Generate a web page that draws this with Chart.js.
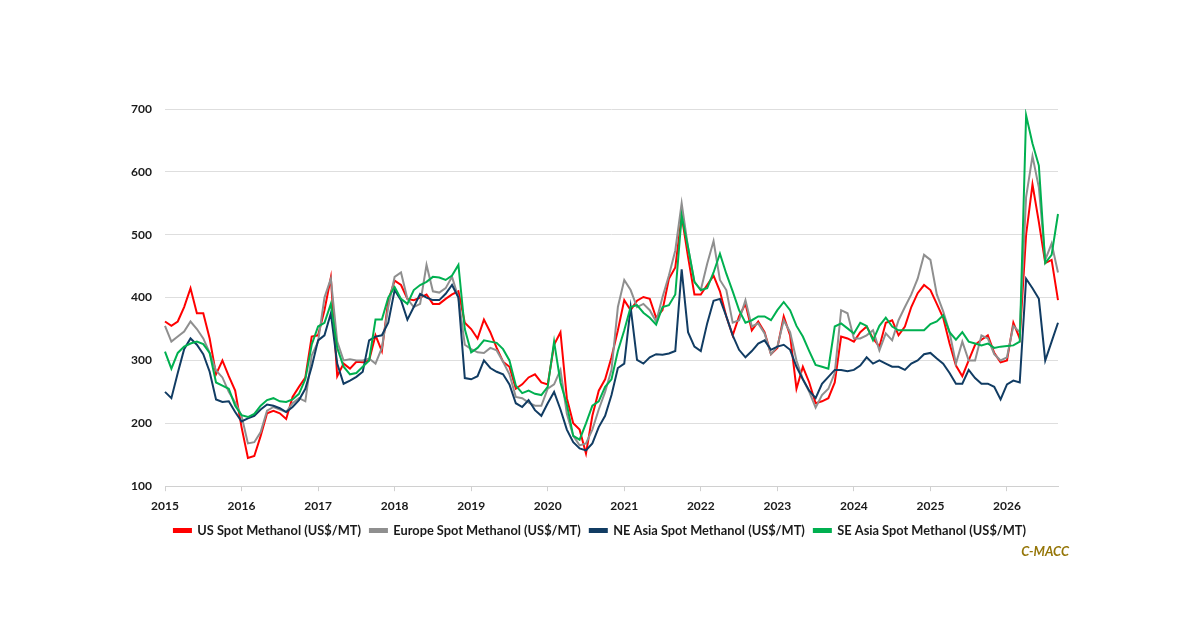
<!DOCTYPE html>
<html>
<head>
<meta charset="utf-8">
<script src="https://cdn.jsdelivr.net/npm/chart.js@4"></script>
<style>
  html, body { margin: 0; padding: 0; background: #fff; }
  #wrap { width: 1200px; height: 627px; }
</style>
</head>
<body>
<div id="wrap"><canvas id="methanolChart" width="1200" height="627"></canvas></div>
<script>
// Monthly labels, Jan 2015 .. Sep 2026
const months = [];
for (let y = 2015; y <= 2026; y++) {
  for (let m = 1; m <= 12; m++) {
    if (y === 2026 && m > 9) break;
    months.push(y + '-' + String(m).padStart(2, '0'));
  }
}

// Spot prices, US$/MT (one value per month)
const usSpot = [
  362, 355, 362, 385, 415, 375, 375, 335, 278, 300, 275, 252,
  194, 145, 148, 180, 216, 220, 216, 207, 242, 258, 273, 338,
  340, 380, 432, 275, 295, 287, 298, 297, 300, 340, 315, 395,
  427, 420, 398, 396, 400, 405, 390, 390, 398, 405, 410, 360,
  350, 335, 365, 345, 320, 298, 290, 255, 262, 273, 278, 265,
  262, 325, 345, 240, 200, 190, 152, 212, 252, 270, 305, 348,
  396, 380, 395, 401, 398, 368, 380, 430, 448, 530, 465, 405,
  405, 420, 435, 410, 370, 340, 370, 390, 348, 362, 345, 310,
  320, 370, 340, 255, 290, 265, 232, 235, 240, 265, 338, 335,
  330, 345, 354, 335, 322, 360, 364, 340, 354, 385, 407, 420,
  412, 390, 368, 327, 292, 275, 300, 325, 333, 340, 312, 297,
  300, 360, 335, 500, 580, 520, 455, 460, 396
];

const europeSpot = [
  355, 330, 338, 346, 362, 350, 335, 312, 284, 273, 250, 233,
  212, 168, 170, 186, 220, 226, 222, 218, 232, 240, 235, 308,
  330, 400, 430, 330, 300, 302, 300, 300, 303, 295, 320, 385,
  433, 440, 398, 385, 390, 452, 410, 408, 415, 433, 400, 325,
  318, 313, 312, 320, 316, 298, 278, 242, 240, 233, 228, 228,
  255, 262, 285, 215, 180, 165, 168, 190, 222, 250, 285, 385,
  428, 412, 385, 390, 380, 362, 401, 435, 475, 550, 480, 425,
  412, 454, 490, 428, 412, 360, 364, 396, 354, 359, 343, 310,
  322, 364, 345, 300, 270, 250, 225, 245, 255, 280, 380, 375,
  335, 335, 340, 348, 316, 343, 332, 364, 385, 405, 430, 468,
  460, 405, 378, 345, 295, 330, 300, 300, 340, 335, 310, 300,
  305, 355, 345, 560, 625, 575, 460, 486, 440
];

const neAsiaSpot = [
  250, 240, 280, 318, 335, 325, 310, 282, 238, 234, 235, 218,
  203, 208, 212, 222, 230, 228, 224, 218, 226, 237, 255, 290,
  332, 340, 375, 295, 263, 268, 274, 282, 332, 338, 340, 360,
  412, 396, 365, 385, 406, 400, 396, 396, 406, 420, 400, 272,
  270, 275, 300, 288, 282, 278, 262, 232, 226, 237, 221, 212,
  232, 250, 222, 190, 170, 160, 157, 168, 194, 212, 245, 288,
  295, 385, 301, 295, 305, 310, 309, 311, 315, 445, 345, 322,
  315, 359, 395, 398, 370, 340, 317, 305, 315, 327, 332, 317,
  322, 325, 317, 290, 270, 252, 240, 263, 274, 285, 285, 283,
  285, 292, 305, 295, 300, 295, 290, 290, 285, 295, 300, 310,
  312, 303, 295, 280, 263, 263, 285, 272, 263, 263, 258, 238,
  262, 268, 265, 430, 415, 398, 300, 330, 360
];

const seAsiaSpot = [
  314, 287, 312, 322, 327, 330, 326, 312, 265, 260, 255, 228,
  213, 210, 215, 228, 237, 240, 235, 234, 238, 247, 270, 325,
  354, 360, 390, 320, 290, 278, 280, 290, 300, 365, 365, 400,
  417, 398, 390, 412, 420, 425, 433, 432, 428, 435, 452, 350,
  313, 320, 332, 330, 328, 318, 300, 260, 248, 252, 247, 245,
  258, 330, 265, 230, 180, 174, 200, 228, 235, 258, 270, 315,
  348, 385, 388, 376, 368, 357, 385, 388, 405, 530, 480, 425,
  412, 415, 440, 470, 438, 410, 380, 360, 364, 370, 370, 364,
  380, 393, 380, 355, 338, 315, 293, 290, 287, 354, 359, 351,
  343, 360, 355, 332, 355, 368, 354, 348, 348, 348, 348, 348,
  358, 362, 372, 345, 333, 345, 330, 327, 324, 327, 320, 322,
  323, 324, 330, 690, 645, 610, 455, 468, 533
];

const yTicks = [100, 200, 300, 400, 500, 600, 700];

const seriesNames = [
  'US Spot Methanol (US$/MT)',
  'Europe Spot Methanol (US$/MT)',
  'NE Asia Spot Methanol (US$/MT)',
  'SE Asia Spot Methanol (US$/MT)'
];
const seriesColors = ['#ff0000', '#8f8f8f', '#113c63', '#00b050'];

const FONT = 'Lato, "Open Sans", sans-serif';

function makeSet(i, values) {
  return {
    label: seriesNames[i],
    data: values,
    borderColor: seriesColors[i],
    backgroundColor: seriesColors[i],
    borderWidth: 2,
    pointRadius: 0,
    tension: 0,
    order: 4 - i   // later series painted on top, like the original
  };
}

// source note bottom-right
const sourceNote = {
  id: 'sourceNote',
  afterDraw(chart) {
    const ctx = chart.ctx;
    ctx.save();
    ctx.font = 'italic bold 13px ' + FONT;
    ctx.fillStyle = '#957608';
    ctx.textAlign = 'right';
    ctx.textBaseline = 'middle';
    ctx.fillText('C-MACC', 1069, 552);
    ctx.restore();
  }
};

function createChart() {
  const ctx = document.getElementById('methanolChart').getContext('2d');
  new Chart(ctx, {
    type: 'line',
    data: {
      labels: months,
      datasets: [
        makeSet(0, usSpot),
        makeSet(1, europeSpot),
        makeSet(2, neAsiaSpot),
        makeSet(3, seAsiaSpot)
      ]
    },
    options: {
      responsive: false,
      animation: false,
      layout: { padding: { left: 0, right: 0, top: 109, bottom: 80 } },
      scales: {
        x: {
          type: 'category',
          offset: false,
          afterBuildTicks(scale) {
            scale.ticks = scale.ticks.filter(t => t.value % 12 === 0);
          },
          afterFit(scale) { scale.height = 29; },
          ticks: {
            autoSkip: false,
            maxRotation: 0,
            padding: 8,
            color: '#1a1a1a',
            font: { family: FONT, size: 12, weight: 'bold' },
            callback(value) { return this.getLabelForValue(value).slice(0, 4); }
          },
          grid: { drawOnChartArea: false, tickLength: 5, color: '#d0d0d0' },
          border: { display: true, color: '#d0d0d0' }
        },
        y: {
          min: 100,
          max: 700,
          afterBuildTicks(scale) {
            scale.ticks = yTicks.map(v => ({ value: v }));
          },
          afterFit(scale) { scale.width = 165; },
          ticks: {
            padding: 13,
            color: '#1a1a1a',
            font: { family: FONT, size: 12, weight: 'bold' }
          },
          grid: { color: '#dedede', drawTicks: false },
          border: { display: false }
        },
        // empty right-hand spacer so the legend stays centred on the page
        spacer: {
          type: 'linear',
          position: 'right',
          display: true,
          afterFit(scale) { scale.width = 142; },
          ticks: { display: false },
          grid: { display: false },
          border: { display: false }
        }
      },
      plugins: {
        legend: {
          position: 'bottom',
          labels: {
            boxWidth: 17,
            boxHeight: 3,
            padding: 9,
            color: '#1a1a1a',
            font: { family: FONT, size: 12.8, weight: 'bold' },
            sort: (a, b) => a.datasetIndex - b.datasetIndex
          }
        },
        tooltip: { enabled: false }
      }
    },
    plugins: [sourceNote]
  });
}

document.addEventListener('DOMContentLoaded', createChart);
</script>
</body>
</html>
